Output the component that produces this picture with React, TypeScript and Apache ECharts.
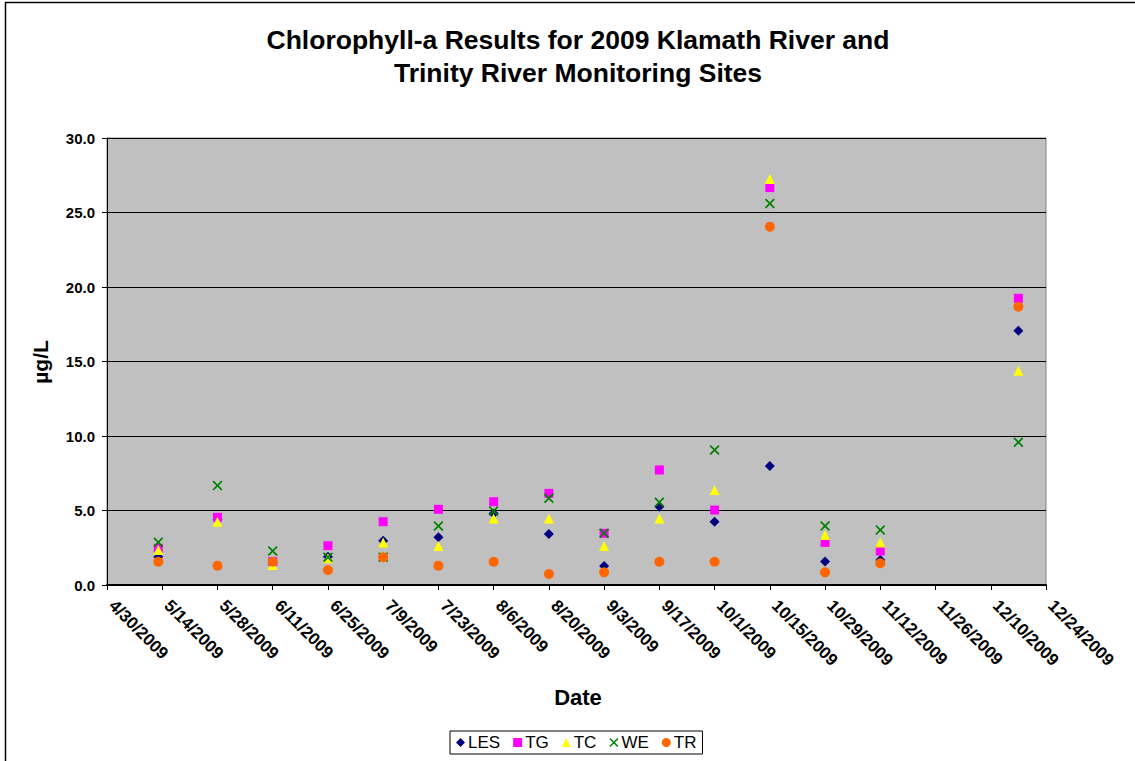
import React, { useEffect, useRef } from "react";
import * as echarts from "echarts";

const sampleDates = [
  "5/13/2009", "5/28/2009", "6/11/2009", "6/25/2009", "7/9/2009",
  "7/23/2009", "8/6/2009", "8/20/2009", "9/3/2009", "9/17/2009",
  "10/1/2009", "10/15/2009", "10/29/2009", "11/12/2009", "12/17/2009",
];

const lesValues = [1.9, 4.4, 1.5, 1.9, 2.97, 3.2, 4.8, 3.42, 1.27, 5.26, 4.25, 7.99, 1.57, 1.68, 17.07];
const tgValues = [2.46, 4.54, 1.57, 2.64, 4.25, 5.08, 5.59, 6.15, 3.47, 7.72, 5.03, 26.67, 2.86, 2.28, 19.24];
const tcValues = [2.35, 4.25, 1.34, 1.79, 2.86, 2.62, 4.47, 4.47, 2.62, 4.47, 6.38, 27.25, 3.36, 2.86, 14.38];
const weValues = [2.87, 6.67, 2.28, 1.86, 1.86, 3.96, 4.97, 5.82, 3.47, 5.55, 9.06, 25.6, 3.96, 3.69, 9.58];
const trValues = [1.56, 1.3, 1.56, 1.0, 1.86, 1.3, 1.56, 0.74, 0.85, 1.56, 1.56, 24.05, 0.85, 1.46, 18.68];

const axisStartDate = "4/30/2009";
const axisEndDate = "12/24/2009";
const tickStepDays = 14;
const yTicks = [0, 5, 10, 15, 20, 25, 30];

const titleText = "Chlorophyll-a Results for 2009 Klamath River and\nTrinity River Monitoring Sites";

const FONT = "'Liberation Sans', Arial, Helvetica, sans-serif";
const DAY = 86400000;

function toUTC(s: string): number {
  const [m, d, y] = s.split("/").map(Number);
  return Date.UTC(y, m - 1, d);
}
const t0 = toUTC(axisStartDate);
const dayOffset = (s: string) => Math.round((toUTC(s) - t0) / DAY);
const fmtDay = (v: number) => {
  const dt = new Date(t0 + v * DAY);
  return `${dt.getUTCMonth() + 1}/${dt.getUTCDate()}/${dt.getUTCFullYear()}`;
};

const X_PATH = "path://M0,1.2 L1.2,0 L5,3.8 L8.8,0 L10,1.2 L6.2,5 L10,8.8 L8.8,10 L5,6.2 L1.2,10 L0,8.8 L3.8,5 Z";

export default function App() {
  const ref = useRef<HTMLDivElement>(null);
  useEffect(() => {
    document.body.style.margin = "0";
    if (!ref.current) return;
    const chart = echarts.init(ref.current, undefined, { renderer: "svg" });
    const mk = (vals: number[]) => sampleDates.map((d, i) => [dayOffset(d), vals[i]]);
    const seriesDefs = [
      { name: "LES", data: lesValues, symbol: "diamond", size: 10, color: "#000080" },
      { name: "TG", data: tgValues, symbol: "rect", size: 9, color: "#FF00FF" },
      { name: "TC", data: tcValues, symbol: "triangle", size: 10, color: "#FFFF00" },
      { name: "WE", data: weValues, symbol: X_PATH, size: 10, color: "#008000" },
      { name: "TR", data: trValues, symbol: "circle", size: 10, color: "#FF6600" },
    ];
    const maxDay = dayOffset(axisEndDate);
    chart.setOption({
      animation: false,
      backgroundColor: "#FFFFFF",
      title: {
        text: titleText,
        left: 573,
        textAlign: "center",
        top: 18,
        textStyle: { fontFamily: FONT, fontSize: 26.5, fontWeight: "bold", color: "#000", lineHeight: 33 },
      },
      legend: {
        left: 450,
        top: 731,
        orient: "horizontal",
        itemWidth: 9,
        itemHeight: 9,
        itemGap: 13,
        padding: [3, 6],
        borderColor: "#000",
        borderWidth: 1,
        textStyle: { fontFamily: FONT, fontSize: 17, color: "#000", padding: [0, 0, 0, -2] },
        data: seriesDefs.map((s) => ({ name: s.name, icon: s.symbol })),
      },
      grid: {
        left: 107,
        right: 89,
        top: 138,
        bottom: 176,
        show: true,
        backgroundColor: "#C0C0C0",
        borderColor: "#808080",
        borderWidth: 1,
      },
      xAxis: {
        type: "value",
        min: 0,
        max: maxDay,
        interval: tickStepDays,
        axisLine: { show: true, lineStyle: { color: "#000", width: 2 } },
        axisTick: { show: true, length: 5, lineStyle: { color: "#000" } },
        splitLine: { show: false },
        axisLabel: {
          rotate: -45,
          margin: 13,
          padding: [0, 0, 0, 7],
          formatter: (v: number) => fmtDay(v),
          fontFamily: FONT,
          fontSize: 17,
          fontWeight: "bold",
          color: "#000",
          showMinLabel: true,
          showMaxLabel: true,
        },
      },
      yAxis: {
        type: "value",
        min: yTicks[0],
        max: yTicks[yTicks.length - 1],
        interval: yTicks[1] - yTicks[0],
        axisLine: { show: true, lineStyle: { color: "#000", width: 1 } },
        axisTick: { show: true, length: 5, lineStyle: { color: "#000" } },
        splitLine: { show: true, lineStyle: { color: "#000", width: 1 } },
        axisLabel: {
          margin: 12,
          formatter: (v: number) => v.toFixed(1),
          fontFamily: FONT,
          fontSize: 15,
          fontWeight: "bold",
          color: "#000",
        },
      },
      graphic: [
        {
          type: "rect",
          shape: { x: 5.5, y: 2.5, width: 1140, height: 770 },
          style: { fill: "none", stroke: "#000", lineWidth: 1.5 },
          silent: true,
          z: -10,
        },
        {
          type: "text",
          x: 40,
          y: 362,
          rotation: Math.PI / 2,
          style: {
            text: "µg/L",
            font: `bold 21px ${FONT}`,
            fill: "#000",
            align: "center",
            verticalAlign: "middle",
          },
        },
        {
          type: "text",
          x: 578,
          y: 697,
          style: {
            text: "Date",
            font: `bold 22px ${FONT}`,
            fill: "#000",
            align: "center",
            verticalAlign: "middle",
          },
        },
      ],
      series: seriesDefs.map((s) => ({
        name: s.name,
        type: "scatter",
        data: mk(s.data),
        symbol: s.symbol,
        symbolSize: s.size,
        itemStyle: { color: s.color, opacity: 1 },
        emphasis: { disabled: true },
      })),
    });
    return () => chart.dispose();
  }, []);
  return <div ref={ref} style={{ width: 1135, height: 761 }} />;
}
